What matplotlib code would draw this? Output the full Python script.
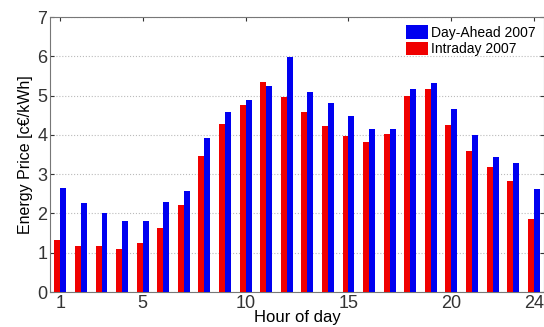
import numpy as np
import matplotlib
matplotlib.use('Agg')
import matplotlib.pyplot as plt

plt.rcParams['font.family'] = ['Liberation Sans', 'DejaVu Sans']

hours = np.arange(1, 25)
day_ahead = [2.65, 2.27, 2.01, 1.82, 1.82, 2.30, 2.57, 3.92, 4.58, 4.90, 5.25, 5.98,
             5.09, 4.81, 4.48, 4.14, 4.14, 5.16, 5.33, 4.65, 4.00, 3.43, 3.29, 2.62]
intraday = [1.33, 1.18, 1.16, 1.10, 1.25, 1.63, 2.22, 3.45, 4.28, 4.77, 5.35, 4.96,
            4.58, 4.22, 3.97, 3.82, 4.01, 4.99, 5.16, 4.24, 3.59, 3.19, 2.83, 1.85]
xticks = [1, 5, 10, 15, 20, 24]

fig = plt.figure(figsize=(5.44, 3.27), dpi=100)
ax = fig.add_axes([0.092, 0.107, 0.908, 0.841])

w = 0.29
ax.bar(hours, day_ahead, width=w, align='edge', color='#0000f0', edgecolor='none',
       label='Day-Ahead 2007', zorder=3)
ax.bar(hours - w, intraday, width=w, align='edge', color='#f00000', edgecolor='none',
       label='Intraday 2007', zorder=3)

ax.set_xlim(0.5, 24.5)
ax.set_ylim(0, 7)
ax.set_xticks(xticks)
ax.set_yticks(range(0, 8))
ax.grid(axis='y', linestyle=':', color='#bbbbbb', linewidth=0.8, zorder=0)
ax.tick_params(direction='in', top=True, right=True, labelsize=13, colors='#333333',
               length=3, pad=2)
for s in ax.spines.values():
    s.set_color('#777777')

ax.set_xlabel('Hour of day', fontsize=12, labelpad=-1)
ax.set_ylabel('Energy Price [c\u20ac/kWh]', fontsize=11.5, labelpad=3)

ax.legend(loc='upper right', fontsize=10, frameon=False, handlelength=1.6,
          handleheight=1.1, borderaxespad=0.2, handletextpad=0.2, labelspacing=0.15)

fig.savefig('out.png', dpi=100)
